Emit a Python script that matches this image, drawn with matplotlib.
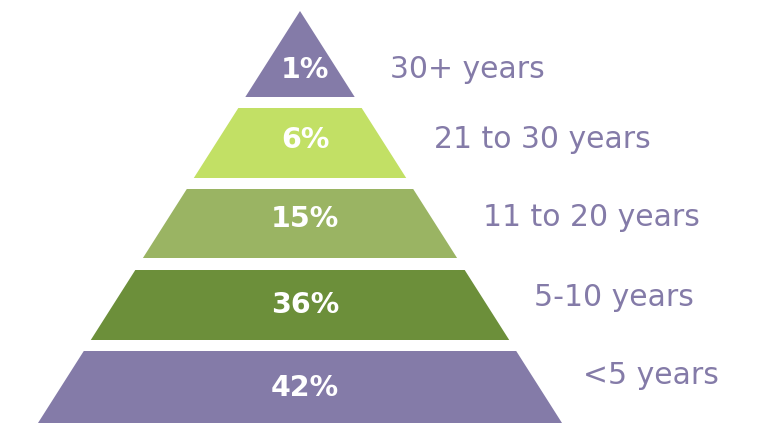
import matplotlib.pyplot as plt
from matplotlib.patches import Polygon

# tenure bands, top of pyramid first
labels = ["30+ years", "21 to 30 years", "11 to 20 years", "5-10 years", "<5 years"]
shares = [1, 6, 15, 36, 42]
colors = ["#847BA8", "#C2E065", "#9AB463", "#6C8F3A", "#847BA8"]

# vertical extent of each layer (pixels from top)
bands = [(11, 97), (108, 178), (189, 258), (270, 340), (351, 423)]
pct_y = [70, 140, 219, 305, 388]
label_y = [70, 140, 217, 297, 375]

apex_x, apex_y = 300, 11
slope = 262 / 412  # half-width growth per pixel down

W, H = 759, 423
fig = plt.figure(figsize=(W / 100, H / 100), dpi=100)
ax = fig.add_axes([0, 0, 1, 1])
ax.set_xlim(0, W)
ax.set_ylim(H, 0)
ax.axis("off")


def half_width(y):
    return (y - apex_y) * slope


for (y0, y1), c, p, py, lab, ly in zip(bands, colors, shares, pct_y, labels, label_y):
    w0, w1 = half_width(y0), half_width(y1)
    poly = Polygon([(apex_x - w0, y0), (apex_x + w0, y0),
                    (apex_x + w1, y1), (apex_x - w1, y1)],
                   closed=True, facecolor=c, edgecolor="none")
    ax.add_patch(poly)
    ax.text(apex_x + 5, py, f"{p}%", ha="center", va="center",
            color="white", fontsize=20.5, fontweight="bold", family="DejaVu Sans")
    ax.text(apex_x + half_width(ly) + 52, ly, lab, ha="left", va="center",
            color="#847BA8", fontsize=21.5, family="DejaVu Sans")

fig.savefig("out.png", dpi=100)
